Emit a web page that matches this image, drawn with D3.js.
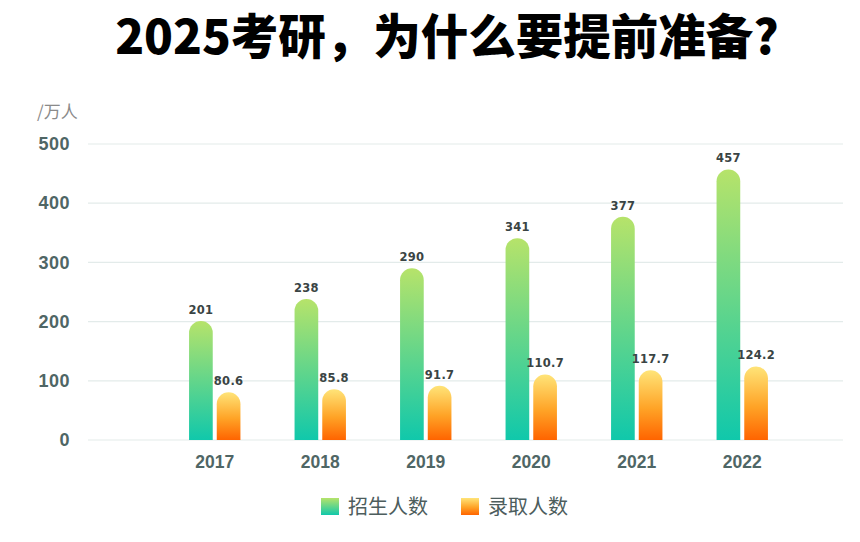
<!DOCTYPE html>
<html>
<head>
<meta charset="utf-8">
<script src="https://cdn.jsdelivr.net/npm/d3@7"></script>
<style>
body { margin:0; background:#fff; }
text { font-family: "Noto Sans CJK SC", "Noto Sans", sans-serif; }
</style>
</head>
<body>
<div id="chart"></div>
<script>
var width = 860;
var height = 542;

var years = ["2017", "2018", "2019", "2020", "2021", "2022"];
var enrollValues = [201, 238, 290, 341, 377, 457];
var admitValues = [80.6, 85.8, 91.7, 110.7, 117.7, 124.2];
var admitLabels = ["80.6", "85.8", "91.7", "110.7", "117.7", "124.2"];
var seriesNames = ["招生人数", "录取人数"];
var yTicks = [0, 100, 200, 300, 400, 500];

var numFont = "'Liberation Sans', Arial, sans-serif";

var svg = d3.select("#chart").append("svg")
    .attr("width", width)
    .attr("height", height);

// gradients
var defs = svg.append("defs");
var gGreen = defs.append("linearGradient").attr("id", "gGreen")
    .attr("x1", 0).attr("y1", 0).attr("x2", 0).attr("y2", 1);
gGreen.append("stop").attr("offset", "0%").attr("stop-color", "#b6e36a");
gGreen.append("stop").attr("offset", "100%").attr("stop-color", "#10c8ab");
var gOrange = defs.append("linearGradient").attr("id", "gOrange")
    .attr("x1", 0).attr("y1", 0).attr("x2", 0).attr("y2", 1);
gOrange.append("stop").attr("offset", "0%").attr("stop-color", "#ffe478");
gOrange.append("stop").attr("offset", "55%").attr("stop-color", "#ffa326");
gOrange.append("stop").attr("offset", "100%").attr("stop-color", "#ff6400");
var fills = ["url(#gGreen)", "url(#gOrange)"];

// title
svg.append("text")
    .attr("x", 447)
    .attr("y", 54)
    .attr("text-anchor", "middle")
    .style("font-size", "47.5px")
    .style("font-weight", 900)
    .style("fill", "#000")
    .text("2025考研，为什么要提前准备?");

// scales
var x0 = d3.scaleBand().domain(years).range([162, 795])
    .paddingInner(0.513).paddingOuter(0.2565);
var x1 = d3.scaleBand().domain(seriesNames).range([0, x0.bandwidth()])
    .paddingInner(0.145);
var y = d3.scaleLinear().domain([0, 500]).range([440, 144]);

// grid
svg.append("g").selectAll("line")
    .data(yTicks)
    .enter()
    .append("line")
    .attr("x1", 88).attr("x2", 843)
    .attr("y1", function(d) { return y(d); })
    .attr("y2", function(d) { return y(d); })
    .attr("stroke", "#e3ebea")
    .attr("stroke-width", 1.2);

// y axis labels
var yAxis = d3.axisLeft(y).tickValues(yTicks).tickSize(0).tickPadding(0);
var yg = svg.append("g").attr("transform", "translate(70,0)").call(yAxis);
yg.select(".domain").remove();
yg.selectAll("text")
    .style("font-size", "18px")
    .style("font-weight", "bold")
    .style("letter-spacing", "0.5px")
    .style("fill", "#4f6665")
    .style("font-family", numFont);

svg.append("text")
    .attr("x", 37).attr("y", 118)
    .style("font-size", "17px")
    .style("fill", "#8a8a8a")
    .text("/万人");

// x axis labels
var xAxis = d3.axisBottom(x0).tickSize(0).tickPadding(0);
var xg = svg.append("g").attr("transform", "translate(0,456)").call(xAxis);
xg.select(".domain").remove();
xg.selectAll("text")
    .style("font-size", "17.5px")
    .style("font-weight", "bold")
    .style("fill", "#4f6665")
    .style("font-family", numFont);

// bars
function barPath(x, w, top, bottom) {
    var r = w / 2;
    if (bottom - top < r) r = bottom - top;
    return "M" + x + "," + bottom +
        "L" + x + "," + (top + r) +
        "A" + (w / 2) + "," + r + " 0 0 1 " + (x + w) + "," + (top + r) +
        "L" + (x + w) + "," + bottom + "Z";
}

var rows = years.map(function(yr, i) {
    return [
        { year: yr, s: 0, v: enrollValues[i], label: String(enrollValues[i]) },
        { year: yr, s: 1, v: admitValues[i], label: admitLabels[i] }
    ];
});

var groups = svg.append("g").selectAll("g")
    .data(rows)
    .enter()
    .append("g")
    .attr("transform", function(d) { return "translate(" + x0(d[0].year) + ",0)"; });

groups.selectAll("path")
    .data(function(d) { return d; })
    .enter()
    .append("path")
    .attr("d", function(d) {
        return barPath(x1(seriesNames[d.s]), x1.bandwidth(), y(d.v), y(0));
    })
    .attr("fill", function(d) { return fills[d.s]; });

groups.selectAll("text")
    .data(function(d) { return d; })
    .enter()
    .append("text")
    .attr("x", function(d) { return x1(seriesNames[d.s]) + x1.bandwidth() / 2; })
    .attr("y", function(d) { return y(d.v) - 7; })
    .attr("text-anchor", "middle")
    .style("font-size", "11.5px")
    .style("font-weight", "bold")
    .style("letter-spacing", "0.3px")
    .style("fill", "#3a4444")
    .style("font-family", "'DejaVu Sans', sans-serif")
    .text(function(d) { return d.label; });

// legend
var legendX = [321, 461];
var legend = svg.append("g").selectAll("g")
    .data(seriesNames)
    .enter()
    .append("g")
    .attr("transform", function(d, i) { return "translate(" + legendX[i] + ",498)"; });
legend.append("rect")
    .attr("width", 18).attr("height", 17)
    .attr("fill", function(d, i) { return fills[i]; });
legend.append("text")
    .attr("x", 27).attr("y", 16)
    .style("font-size", "20px")
    .style("fill", "#4d5d5d")
    .text(function(d) { return d; });
</script>
</body>
</html>
